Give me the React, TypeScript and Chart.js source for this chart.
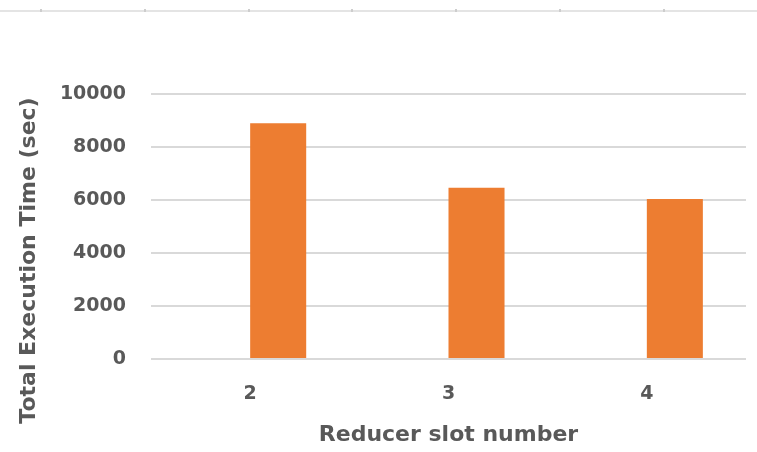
import React, { useEffect, useRef } from "react";
import { Chart, registerables } from "chart.js";

Chart.register(...registerables);

// Reducer slot counts and the total execution time measured for each
const slotLabels: string[] = ["2", "3", "4"];
const executionTimes: number[] = [8900, 6460, 6040];
// The workbook's clustered chart keeps an empty first series, which shifts the bars right
const emptySeries: (number | null)[] = [null, null, null];
const yTicks: number[] = [0, 2000, 4000, 6000, 8000, 10000];

const textColor = "#595959";
const barColor = "#ED7D31";
const gridColor = "#d9d9d9";
const fontFamily = "'DejaVu Sans', sans-serif";

// Faint sheet ruler along the top edge of the canvas
const rulerPlugin = {
  id: "sheetRuler",
  beforeDraw(chart: Chart) {
    const { ctx, width } = chart;
    ctx.save();
    ctx.fillStyle = "#e4e4e4";
    ctx.fillRect(0, 10, width, 2);
    ctx.fillStyle = "#cdcdcd";
    for (let i = 0; i < 7; i++) {
      const x = Math.round(40.7 + i * 103.9);
      ctx.fillRect(x - 1, 9, 2, 3);
    }
    ctx.restore();
  },
};

// Vertical axis title, placed a little below the plot's middle
const yTitlePlugin = {
  id: "yAxisTitle",
  afterDraw(chart: Chart) {
    const { ctx } = chart;
    ctx.save();
    ctx.translate(29.5, 260.5);
    ctx.rotate(-Math.PI / 2);
    ctx.font = `bold 22px ${fontFamily}`;
    ctx.fillStyle = textColor;
    ctx.textAlign = "center";
    ctx.textBaseline = "middle";
    ctx.fillText("Total Execution Time (sec)", 0, 0);
    ctx.restore();
  },
};

export default function App() {
  const canvasRef = useRef<HTMLCanvasElement | null>(null);

  useEffect(() => {
    document.body.style.margin = "0";
    const canvas = canvasRef.current;
    if (!canvas) return;

    const chart = new Chart(canvas, {
      type: "bar",
      data: {
        labels: slotLabels,
        datasets: [
          {
            label: "",
            data: emptySeries,
            backgroundColor: "rgba(0,0,0,0)",
          },
          {
            label: "Total Execution Time",
            data: executionTimes,
            backgroundColor: barColor,
            borderWidth: 0,
          },
        ],
      },
      options: {
        responsive: false,
        animation: false,
        devicePixelRatio: 1,
        categoryPercentage: 0.565,
        barPercentage: 1.0,
        layout: {
          padding: { top: 94, right: 11, bottom: 0, left: 0 },
        },
        plugins: {
          legend: { display: false },
          tooltip: { enabled: false },
        },
        scales: {
          x: {
            grid: { display: false, drawTicks: false },
            border: { display: false },
            ticks: {
              color: textColor,
              font: { family: fontFamily, size: 19, weight: "bold" },
              padding: 24,
            },
            title: {
              display: true,
              text: "Reducer slot number",
              color: textColor,
              font: { family: fontFamily, size: 22, weight: "bold" },
              padding: { top: 0, bottom: 4 },
            },
            afterFit(scale: any) {
              scale.height = 93;
            },
          },
          y: {
            min: 0,
            max: 10000,
            afterBuildTicks(scale: any) {
              scale.ticks = yTicks.map((v) => ({ value: v }));
            },
            grid: {
              color: gridColor,
              lineWidth: 2,
              drawTicks: false,
            },
            border: { display: false },
            ticks: {
              color: textColor,
              font: { family: fontFamily, size: 19, weight: "bold" },
              padding: 25,
              callback: (value: any) => String(value),
            },
            afterFit(scale: any) {
              scale.width = 151;
            },
          },
        },
      },
      plugins: [rulerPlugin, yTitlePlugin],
    });

    return () => chart.destroy();
  }, []);

  return (
    <div style={{ width: 757, height: 452, background: "#ffffff" }}>
      <canvas ref={canvasRef} width={757} height={452} />
    </div>
  );
}
